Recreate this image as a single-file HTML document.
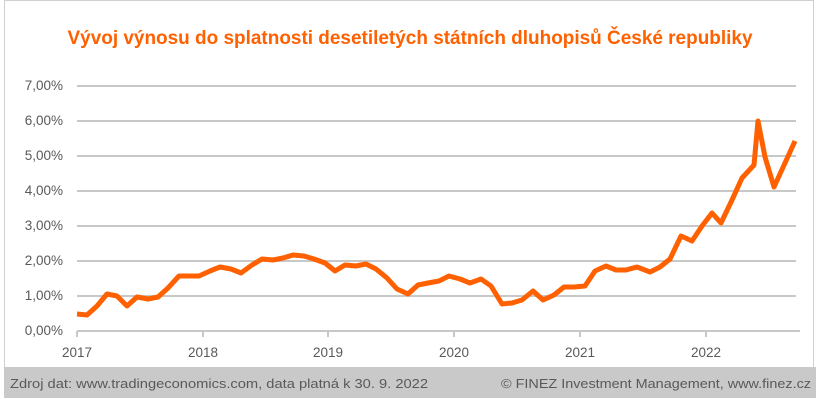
<!DOCTYPE html>
<html><head><meta charset="utf-8"><style>
body{margin:0;background:#fff;width:820px;height:404px;overflow:hidden;font-family:"Liberation Sans",sans-serif}
</style></head><body>
<svg width="820" height="404" xmlns="http://www.w3.org/2000/svg" font-family="Liberation Sans, sans-serif">
<rect x="4.5" y="0.5" width="809" height="397" fill="#fff" stroke="#d0d0d0"/>
<text x="410" y="44" text-anchor="middle" font-size="19" font-weight="bold" fill="#ff6000" textLength="685" lengthAdjust="spacingAndGlyphs">Vývoj výnosu do splatnosti desetiletých státních dluhopisů České republiky</text>
<g stroke="#c8c8c8" stroke-width="2">
<line x1="77" x2="796" y1="86" y2="86"/><line x1="77" x2="796" y1="121" y2="121"/><line x1="77" x2="796" y1="156" y2="156"/><line x1="77" x2="796" y1="191" y2="191"/><line x1="77" x2="796" y1="226" y2="226"/><line x1="77" x2="796" y1="261" y2="261"/><line x1="77" x2="796" y1="296" y2="296"/><line x1="77" x2="800" y1="331" y2="331"/>
<line x1="77" x2="77" y1="331" y2="337"/><line x1="203" x2="203" y1="331" y2="337"/><line x1="328" x2="328" y1="331" y2="337"/><line x1="454" x2="454" y1="331" y2="337"/><line x1="580" x2="580" y1="331" y2="337"/><line x1="706" x2="706" y1="331" y2="337"/>
</g>
<g font-size="13.5" fill="#595959" text-anchor="end">
<text x="63" y="90">7,00%</text><text x="63" y="125">6,00%</text><text x="63" y="160">5,00%</text><text x="63" y="195">4,00%</text><text x="63" y="230">3,00%</text><text x="63" y="265">2,00%</text><text x="63" y="300">1,00%</text><text x="63" y="335">0,00%</text>
</g>
<g font-size="13.5" fill="#595959" text-anchor="middle">
<text x="77" y="357">2017</text><text x="203" y="357">2018</text><text x="328" y="357">2019</text><text x="454" y="357">2020</text><text x="580" y="357">2021</text><text x="706" y="357">2022</text>
</g>
<polyline fill="none" stroke="#ff6000" stroke-width="5" stroke-linejoin="round" points="77,314 87,315 97,306 107,294 117,296 127,306 137,297 148,299 158,297 168,288 179,276 189,276 199,276 210,271 220,267 231,269 241,273 252,265 262,259 273,260 283,258 293,255 304,256 314,259 325,263 335,271 345,265 356,266 366,264 376,269 387,278 397,289 408,294 418,285 428,283 439,281 449,276 460,279 470,283 481,279 491,286 502,304 512,303 522,300 533,291 543,300 554,295 564,287 574,287 585,286 595,271 606,266 616,270 626,270 637,267 650,272 660,267 670,259 681,236 692,241 702,226 712,213 721,223 732,200 742,178 754,165 758,121 765,157 774,187 785,163 795,141"/>
<rect x="4" y="367" width="812" height="31" fill="#c9c9c9"/>
<text x="10" y="388" font-size="13" fill="#595959" textLength="418" lengthAdjust="spacingAndGlyphs">Zdroj dat: www.tradingeconomics.com, data platná k 30. 9. 2022</text>
<text x="811" y="388" font-size="13" fill="#595959" text-anchor="end" textLength="310" lengthAdjust="spacingAndGlyphs">© FINEZ Investment Management, www.finez.cz</text>
</svg>
</body></html>
